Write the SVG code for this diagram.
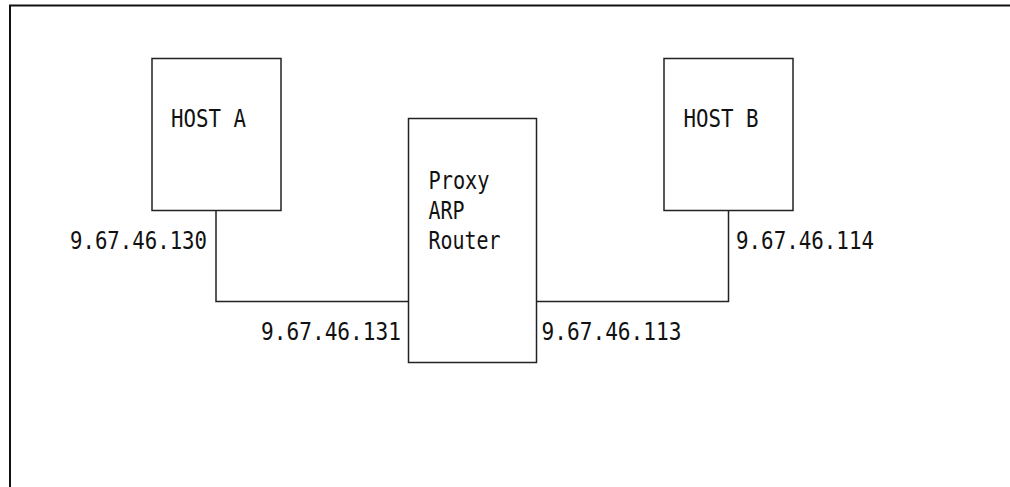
<svg xmlns="http://www.w3.org/2000/svg" width="1010" height="487" viewBox="0 0 1010 487">
<style>
.box{fill:#fff;stroke:#222;stroke-width:1.5}
.ln{fill:none;stroke:#222;stroke-width:1.5}
.t{font-family:"DejaVu Sans Mono","Liberation Mono",monospace;font-size:24px;fill:#111}
</style>
<rect width="1010" height="487" fill="#fff"/>
<path d="M10,487 V5.5 H1010" fill="none" stroke="#111" stroke-width="2"/>
<g id="connectors">
<polyline class="ln" points="216,210.5 216,301.5 408.5,301.5"/>
<polyline class="ln" points="536.5,301.5 728.5,301.5 728.5,210.5"/>
</g>
<g id="hostA">
<rect class="box" x="152" y="58.5" width="129" height="152"/>
<text class="t" x="171" y="127" textLength="75" lengthAdjust="spacingAndGlyphs">HOST A</text>
</g>
<g id="router">
<rect class="box" x="408.5" y="118.5" width="128" height="244"/>
<text class="t" x="428.5" y="188.5" textLength="61" lengthAdjust="spacingAndGlyphs">Proxy</text>
<text class="t" x="428.5" y="219" textLength="36" lengthAdjust="spacingAndGlyphs">ARP</text>
<text class="t" x="428.5" y="248.5" textLength="72" lengthAdjust="spacingAndGlyphs">Router</text>
</g>
<g id="hostB">
<rect class="box" x="664" y="58.5" width="129" height="152"/>
<text class="t" x="683.5" y="127" textLength="75" lengthAdjust="spacingAndGlyphs">HOST B</text>
</g>
<g id="labels">
<text class="t" x="70" y="249" textLength="137" lengthAdjust="spacingAndGlyphs">9.67.46.130</text>
<text class="t" x="736" y="249" textLength="138" lengthAdjust="spacingAndGlyphs">9.67.46.114</text>
<text class="t" x="261" y="340" textLength="140" lengthAdjust="spacingAndGlyphs">9.67.46.131</text>
<text class="t" x="541.5" y="340" textLength="140" lengthAdjust="spacingAndGlyphs">9.67.46.113</text>
</g>
</svg>
